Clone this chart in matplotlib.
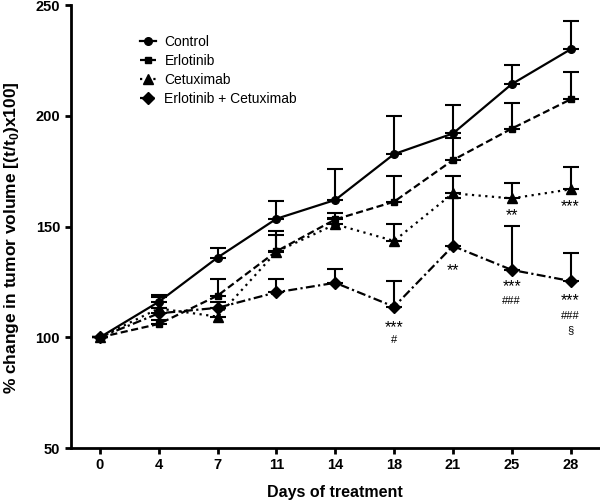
import numpy as np
import matplotlib
matplotlib.use("Agg")
import matplotlib.pyplot as plt

plt.rcParams["font.family"] = ["Liberation Sans", "DejaVu Sans"]

# Dados
dias = ["0", "4", "7", "11", "14", "18", "21", "25", "28"]

control = [100, 116, 136, 153.5, 162, 182.7, 192, 214.3, 230]
erlotinib = [100, 106, 118.8, 138.8, 153.2, 161.2, 180, 194.2, 207.4]
cetuximab = [100, 113, 109.3, 138.6, 151, 143.5, 165, 162.7, 166.8]
combo = [100, 110.8, 113.3, 120.3, 124.6, 113.8, 141.2, 130.4, 125.4]

control_sem = [0, 3.3, 4.2, 8.1, 14.0, 17.3, 13.0, 8.7, 13.0]
erlotinib_sem = [0, 2.0, 7.5, 9.2, 2.8, 11.8, 9.8, 11.4, 12.5]
cetuximab_sem = [0, 5.0, 3.7, 7.4, 3.0, 7.5, 7.8, 6.8, 10.2]
combo_sem = [0, 2.2, 2.7, 6.0, 6.4, 11.6, 21.5, 19.8, 12.8]

# Marcas de significância: (índice do dia, y, texto)
anotacoes = [
    (5, 106.4, "***"), (5, 98.8, "#"),
    (6, 131.9, "**"),
    (7, 156.7, "**"), (7, 124.8, "***"), (7, 116.3, "###"),
    (8, 160.7, "***"), (8, 118.6, "***"), (8, 109.8, "###"), (8, 103.3, "§"),
]

fig = plt.figure(figsize=(6.0, 5.03), dpi=100)
ax = fig.add_axes([0.1175, 0.1093, 0.8825, 0.8807])
x = np.arange(len(dias))

series = [
    ("Control", control, control_sem, "o", 5.5, "-"),
    ("Erlotinib", erlotinib, erlotinib_sem, "s", 5, (0, (3.2, 1.6))),
    ("Cetuximab", cetuximab, cetuximab_sem, "^", 6.5, (0, (1, 2))),
    ("Erlotinib + Cetuximab", combo, combo_sem, "D", 6.2, (0, (4, 1.5, 1, 1.5))),
]

for nome, y, sem, mk, ms, ls in series:
    y = np.array(y)
    sem = np.array(sem)
    ax.errorbar(x, y, yerr=[np.zeros_like(sem), sem], fmt="none",
                ecolor="black", elinewidth=1.5, capsize=5.5, capthick=1.5, zorder=2)
    ax.plot(x, y, color="black", linestyle=ls, linewidth=1.6, marker=mk,
            markersize=ms, label=nome, zorder=3)

for i, yv, txt in anotacoes:
    if "*" in txt:
        # o asterisco fica no alto da caixa do texto, então desce um pouco
        ax.annotate(txt, (i, yv), xytext=(0, -3), textcoords="offset points",
                    ha="center", va="center", fontsize=11.5)
    else:
        ax.text(i, yv, txt, ha="center", va="center", fontsize=8)

ax.set_xlim(-0.5, 8.5)
ax.set_ylim(50, 250)
ax.set_xticks(x)
ax.set_xticklabels(dias)
ax.set_yticks([50, 100, 150, 200, 250])

for s in ["top", "right"]:
    ax.spines[s].set_visible(False)
for s in ["left", "bottom"]:
    ax.spines[s].set_linewidth(2)

ax.tick_params(axis="both", direction="out", length=4, width=2, labelsize=10.5)
for lab in ax.get_xticklabels() + ax.get_yticklabels():
    lab.set_fontweight("bold")

ax.set_xlabel("Days of treatment", fontsize=11.5, fontweight="bold", labelpad=9)
ax.set_ylabel("% change in tumor volume [(t/t$_\\mathregular{0}$)x100]",
              fontsize=12.5, fontweight="bold")
ax.yaxis.set_label_coords(-0.094, 0.474)

ax.legend(loc="upper left", bbox_to_anchor=(0.108, 0.96), frameon=False,
          fontsize=10, handlelength=1.15, handletextpad=0.6, labelspacing=0.35)

plt.savefig("out.png", dpi=100)
